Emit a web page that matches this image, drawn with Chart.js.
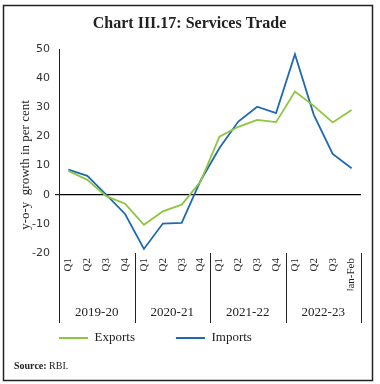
<!DOCTYPE html>
<html>
<head>
<meta charset="utf-8">
<script src="https://cdn.jsdelivr.net/npm/chart.js@4.4.1/dist/chart.umd.min.js"></script>
<style>
html,body{margin:0;padding:0;background:#fff;}
#wrap{position:absolute;left:0;top:0;width:380px;height:384px;}
</style>
</head>
<body>
<div id="wrap"><canvas id="c" width="380" height="384"></canvas></div>
<script>
const categories = ['Q1','Q2','Q3','Q4','Q1','Q2','Q3','Q4','Q1','Q2','Q3','Q4','Q1','Q2','Q3','Jan-Feb'];
const years = ['2019-20','2020-21','2021-22','2022-23'];
const groupSizes = [4,4,4,4];
const exportsData = [8.2, 5.1, -0.5, -3.1, -10.3, -5.7, -3.4, 4.5, 19.9, 23.3, 25.7, 24.9, 35.4, 30.5, 24.8, 29.1];
const importsData = [8.6, 6.5, 0.0, -6.6, -18.6, -9.9, -9.7, 4.8, 16.0, 25.1, 30.2, 28.0, 48.2, 27.4, 14.0, 9.1];
const yTicks = {min: -20, max: 50, step: 10};

const GREEN = '#8DC63F';
const BLUE = '#1F69B3';
const INK = '#222222';
const SERIF = '"Liberation Serif", "DejaVu Serif", serif';

const decor = {
  id: 'decor',
  beforeDraw(chart) {
    const ctx = chart.ctx;
    ctx.save();
    ctx.fillStyle = '#fff';
    ctx.fillRect(0, 0, chart.width, chart.height);
    ctx.strokeStyle = INK;
    ctx.lineWidth = 1.5;
    ctx.strokeRect(3.5, 5.5, 369, 375);
    ctx.restore();
  },
  afterDraw(chart) {
    const ctx = chart.ctx;
    const xs = chart.scales.x;
    const a = chart.chartArea;
    const bounds = [a.left];
    let idx = 0;
    groupSizes.forEach(n => {
      idx += n;
      if (idx < categories.length) {
        bounds.push((xs.getPixelForValue(idx - 1) + xs.getPixelForValue(idx)) / 2);
      } else {
        bounds.push(a.right);
      }
    });
    ctx.save();
    ctx.strokeStyle = INK;
    ctx.lineWidth = 1;
    bounds.forEach(b => {
      const bx = Math.round(b) + 0.5;
      ctx.beginPath();
      ctx.moveTo(bx, a.bottom);
      ctx.lineTo(bx, a.bottom + 70);
      ctx.stroke();
    });
    ctx.fillStyle = INK;
    ctx.font = '13px ' + SERIF;
    ctx.textAlign = 'center';
    ctx.textBaseline = 'middle';
    years.forEach((y, i) => {
      ctx.fillText(y, (bounds[i] + bounds[i + 1]) / 2, a.bottom + 60);
    });
    // y axis title
    ctx.save();
    ctx.translate(26, 165);
    ctx.rotate(-Math.PI / 2);
    ctx.font = '13px ' + SERIF;
    ctx.fillText('y-o-y  growth in per cent', 0, 0);
    ctx.restore();
    // source
    ctx.textAlign = 'left';
    ctx.textBaseline = 'alphabetic';
    ctx.font = 'bold 10px ' + SERIF;
    ctx.fillText('Source:', 14, 369);
    const w = ctx.measureText('Source: ').width;
    ctx.font = '10px ' + SERIF;
    ctx.fillText('RBI.', 14 + w, 369);
    ctx.restore();
  }
};

new Chart(document.getElementById('c'), {
  type: 'line',
  data: {
    labels: categories,
    datasets: [
      {label: 'Exports', data: exportsData, borderColor: GREEN, backgroundColor: GREEN, borderWidth: 1.8, pointRadius: 0, tension: 0},
      {label: 'Imports', data: importsData, borderColor: BLUE, backgroundColor: BLUE, borderWidth: 1.8, pointRadius: 0, tension: 0}
    ]
  },
  options: {
    responsive: false,
    animation: false,
    events: [],
    layout: {padding: {left: 18, right: 19, top: 0, bottom: 29.5}},
    plugins: {
      title: {
        display: true,
        text: 'Chart III.17: Services Trade',
        color: INK,
        font: {family: SERIF, size: 16, weight: 'bold', lineHeight: 1.2},
        padding: {top: 14, bottom: 15.8}
      },
      legend: {
        position: 'bottom',
        align: 'start',
        labels: {
          usePointStyle: true,
          pointStyle: 'line',
          pointStyleWidth: 29,
          padding: 41,
          color: INK,
          font: {family: SERIF, size: 13}
        }
      },
      tooltip: {enabled: false}
    },
    scales: {
      x: {
        offset: true,
        grid: {display: false, drawTicks: false},
        border: {display: false},
        ticks: {
          autoSkip: false,
          minRotation: 90,
          maxRotation: 90,
          padding: 5,
          color: INK,
          font: {family: SERIF, size: 11}
        },
        afterFit(s) { s.height = 37.5; }
      },
      y: {
        min: yTicks.min,
        max: yTicks.max,
        border: {display: true, color: INK, width: 1},
        grid: {
          drawOnChartArea: true,
          drawTicks: true,
          tickLength: 4,
          tickColor: INK,
          lineWidth: ctx => (ctx.tick && ctx.tick.value === 0) ? 1.2 : 0,
          color: ctx => (ctx.tick && ctx.tick.value === 0) ? '#000' : 'rgba(0,0,0,0)'
        },
        ticks: {
          stepSize: yTicks.step,
          padding: 5,
          color: '#333',
          font: {family: '"DejaVu Sans", sans-serif', size: 11}
        },
        afterFit(s) { s.width = 41; }
      }
    }
  },
  plugins: [decor]
});
</script>
</body>
</html>
